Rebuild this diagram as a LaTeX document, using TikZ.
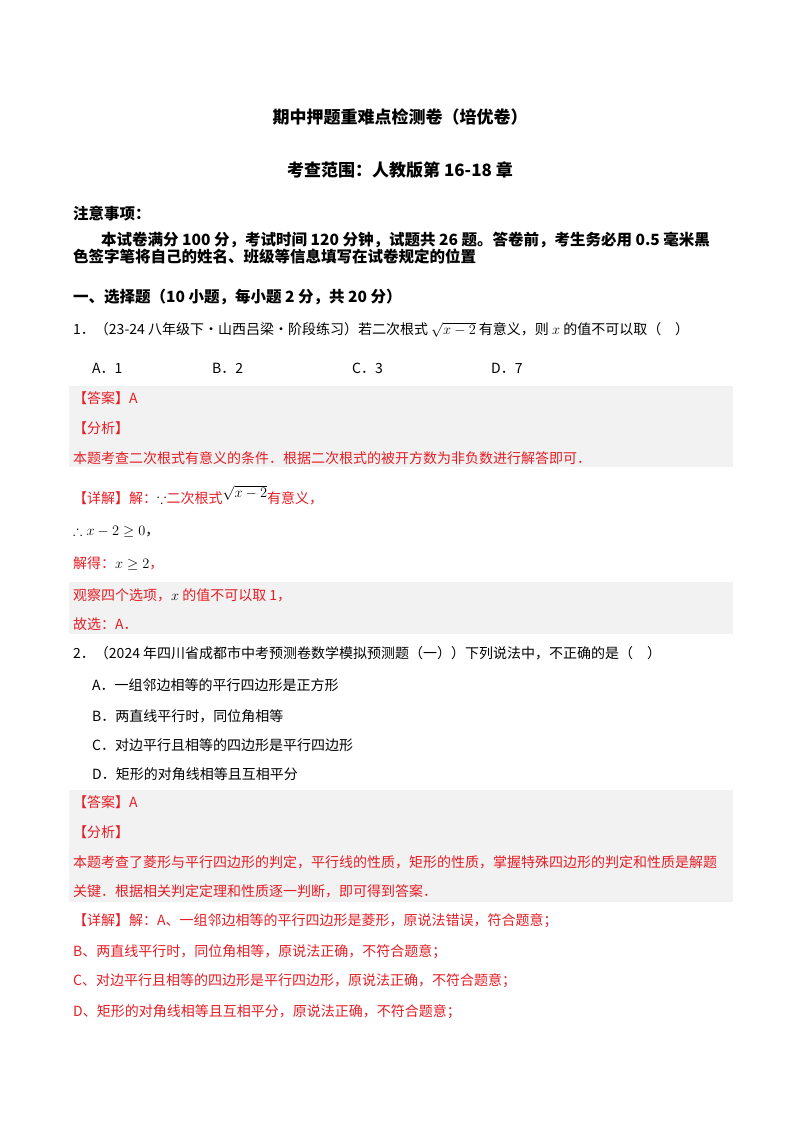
\documentclass[tikz,border=0pt]{standalone}
\usepackage{amssymb}
\usepackage{fontspec}
\setmainfont{Liberation Serif}
\newfontfamily\cjk{Noto Sans CJK SC}
\definecolor{ansred}{RGB}{228,30,38}
\definecolor{boxgray}{RGB}{242,242,242}
\begin{document}
\begin{tikzpicture}[x=1pt,y=-1pt,
  txt/.style={anchor=west,inner sep=0pt,font=\fontsize{14}{16}\selectfont\cjk},
  rtxt/.style={txt,text=ansred},
  bt/.style={txt,font=\fontsize{15.5}{18}\selectfont\cjk\bfseries},
  ttl/.style={anchor=center,inner sep=0pt,font=\fontsize{17}{20}\selectfont\cjk\bfseries}]
\useasboundingbox (0,0) rectangle (800,1132);
\fill[white] (0,0) rectangle (800,1132);
\fill[boxgray] (69,386) rectangle (733,467);
\fill[boxgray] (69,582) rectangle (733,634);
\fill[boxgray] (69,790) rectangle (733,902);
\node[ttl] (t1) at (400,117) {期中押题重难点检测卷（培优卷）};
\node[ttl] (t2) at (400,170) {考查范围：人教版第 16-18 章};
\node[bt] (n1) at (73,214) {注意事项：};
\node[bt] (n2) at (101,240) {本试卷满分 100 分，考试时间 120 分钟，试题共 26 题。答卷前，考生务必用 0.5 毫米黑};
\node[bt] (n3) at (73,256) {色签字笔将自己的姓名、班级等信息填写在试卷规定的位置};
\node[bt] (s1) at (73,297) {一、选择题（10 小题，每小题 2 分，共 20 分）};
\node[txt] (q1) at (73,330) {1．（23-24 八年级下·山西吕梁·阶段练习）若二次根式 $\sqrt{x-2}$ 有意义，则 $x$ 的值不可以取（\quad ）};
\node[txt] (o1a) at (92,368) {A．1};
\node[txt] (o1b) at (212,368) {B．2};
\node[txt] (o1c) at (352,368) {C．3};
\node[txt] (o1d) at (491,368) {D．7};
\node[rtxt] (a1) at (73,398) {【答案】A};
\node[rtxt] (f1) at (73,428) {【分析】};
\node[rtxt] (f1t) at (73,458) {本题考查二次根式有意义的条件．根据二次根式的被开方数为非负数进行解答即可．};
\node[rtxt] (d1) at (73,495) {【详解】解：{\color{black}$\because$}二次根式\raisebox{6pt}{\color{black}$\sqrt{x-2}$}有意义，};
\node[txt] (d1a) at (73,532) {$\therefore x-2\geq 0$，};
\node[rtxt] (d1b) at (73,564) {解得：{\color{black}$x\geq 2$}，};
\node[rtxt] (d1c) at (73,595) {观察四个选项，{\color{black}$x$} 的值不可以取 1，};
\node[rtxt] (d1d) at (73,624) {故选：A．};
\node[txt] (q2) at (73,653) {2．（2024 年四川省成都市中考预测卷数学模拟预测题（一））下列说法中，不正确的是（\quad ）};
\node[txt] (o2a) at (92,685) {A．一组邻边相等的平行四边形是正方形};
\node[txt] (o2b) at (92,716) {B．两直线平行时，同位角相等};
\node[txt] (o2c) at (92,745) {C．对边平行且相等的四边形是平行四边形};
\node[txt] (o2d) at (92,774) {D．矩形的对角线相等且互相平分};
\node[rtxt] (a2) at (73,802) {【答案】A};
\node[rtxt] (f2) at (73,832) {【分析】};
\node[rtxt] (f2t) at (73,862) {本题考查了菱形与平行四边形的判定，平行线的性质，矩形的性质，掌握特殊四边形的判定和性质是解题};
\node[rtxt] (f2u) at (73,891) {关键．根据相关判定定理和性质逐一判断，即可得到答案．};
\node[rtxt] (d2) at (73,921) {【详解】解：A、一组邻边相等的平行四边形是菱形，原说法错误，符合题意；};
\node[rtxt] (d2b) at (73,952) {B、两直线平行时，同位角相等，原说法正确，不符合题意；};
\node[rtxt] (d2c) at (73,981) {C、对边平行且相等的四边形是平行四边形，原说法正确，不符合题意；};
\node[rtxt] (d2d) at (73,1012) {D、矩形的对角线相等且互相平分，原说法正确，不符合题意；};
\end{tikzpicture}
\end{document}
